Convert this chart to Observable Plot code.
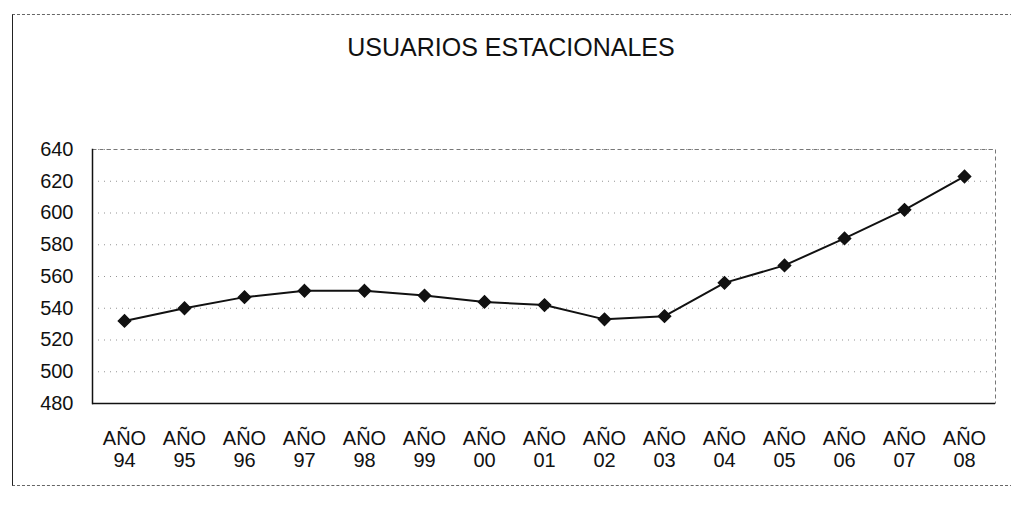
<!DOCTYPE html>
<html>
<head>
<meta charset="utf-8">
<script src="https://cdn.jsdelivr.net/npm/d3@7"></script>
<script src="https://cdn.jsdelivr.net/npm/@observablehq/plot@0.6"></script>
<style>
  html, body { margin: 0; padding: 0; background: #fff; }
  #wrap { position: relative; width: 1011px; height: 506px; overflow: hidden; }
  #border { position: absolute; left: 12px; top: 14px; width: 1010px; height: 470px;
            border-left: 1px solid #222; border-top: 1px dashed #666; border-bottom: 1px dashed #666; }
  svg { position: absolute; left: 0; top: 0; }
</style>
</head>
<body>
<div id="wrap"><div id="border"></div></div>
<script>
const title = "USUARIOS ESTACIONALES";
const years = ["94","95","96","97","98","99","00","01","02","03","04","05","06","07","08"];
const users = [532, 540, 547, 551, 551, 548, 544, 542, 533, 535, 556, 567, 584, 602, 623];
const yTicks = [480, 500, 520, 540, 560, 580, 600, 620, 640];
const tickPrefix = "AÑO";

const data = years.map((y, i) => ({year: y, value: users[i]}));

const chart = Plot.plot({
  width: 1011,
  height: 506,
  marginLeft: 92,
  marginRight: 16,
  marginTop: 149,
  marginBottom: 103,
  style: {fontFamily: "'Liberation Sans', Arial, sans-serif", background: "transparent", color: "#111"},
  x: {type: "point", domain: years, padding: 0.5, label: null},
  y: {domain: [480, 640], label: null},
  marks: [
    Plot.gridY(yTicks, {stroke: "#888", strokeOpacity: 0.9, strokeDasharray: "1,5"}),
    Plot.frame({stroke: "#777", strokeDasharray: "4,3"}),
    Plot.frame({anchor: "left", stroke: "#111", strokeWidth: 1.5}),
    Plot.ruleY([480], {stroke: "#111", strokeWidth: 1.5}),
    Plot.axisY({ticks: yTicks, tickSize: 0, tickPadding: 19, fontSize: 20, label: null}),
    Plot.axisX({tickSize: 0, tickPadding: 26, fontSize: 20, lineHeight: 1.1,
      tickFormat: d => tickPrefix + "\n" + d, label: null,
      fontFamily: "'Liberation Sans Narrow', 'Arial Narrow', 'Liberation Sans', sans-serif"}),
    Plot.line(data, {x: "year", y: "value", stroke: "#111", strokeWidth: 2}),
    Plot.dot(data, {x: "year", y: "value", symbol: "diamond2", r: 5.5, fill: "#111", stroke: "#111"}),
    Plot.text([title], {frameAnchor: "top", dx: -33, dy: -102, fontSize: 25, fill: "#111", lineAnchor: "middle"})
  ]
});
document.getElementById("wrap").appendChild(chart);
</script>
</body>
</html>
